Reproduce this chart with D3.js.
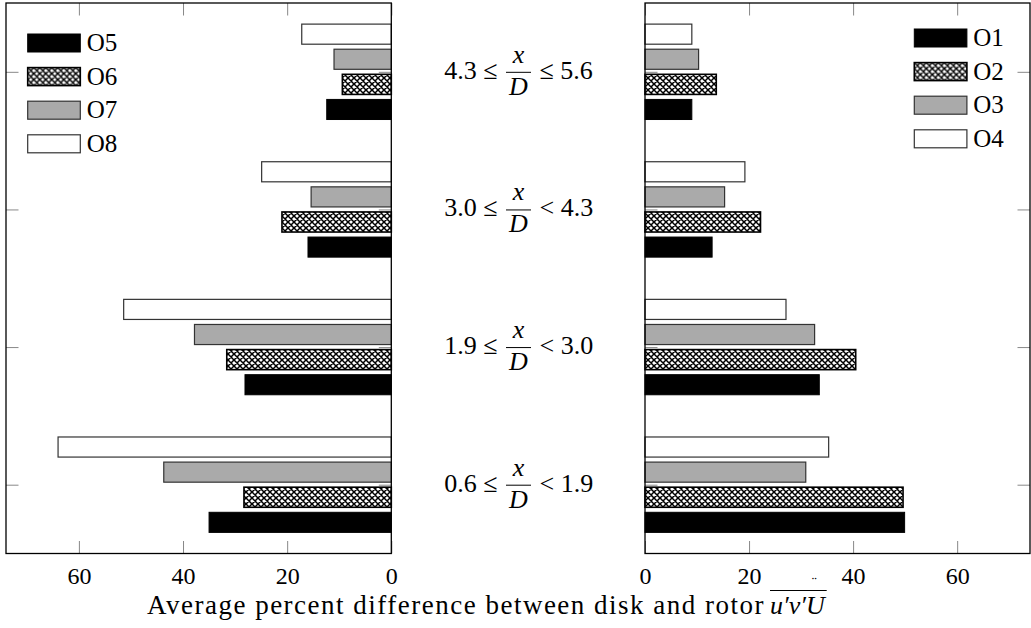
<!DOCTYPE html>
<html>
<head>
<meta charset="utf-8">
<script src="https://cdn.jsdelivr.net/npm/d3@7"></script>
<style>
body { margin: 0; background: #fff; }
svg text { font-family: "Liberation Serif", "DejaVu Serif", serif !important; fill: #000; }
</style>
</head>
<body>
<svg id="chart" width="1031" height="628" font-family="Liberation Serif, DejaVu Serif, serif"></svg>
<script>
// x/D ranges, from the bottom group to the top group
var rangeLow = ["0.6", "1.9", "3.0", "4.3"];
var rangeHigh = ["1.9", "3.0", "4.3", "5.6"];
var rangeRel = ["<", "<", "<", "\u2264"];

// left panel series (same group order)
var leftNames = ["O5", "O6", "O7", "O8"];
var O5 = [35.0, 28.1, 16.0, 12.4];
var O6 = [28.3, 31.6, 21.0, 9.4];
var O7 = [43.7, 37.8, 15.4, 11.0];
var O8 = [64.0, 51.4, 24.9, 17.2];

// right panel series
var rightNames = ["O1", "O2", "O3", "O4"];
var O1 = [49.9, 33.5, 12.9, 9.0];
var O2 = [49.6, 40.5, 22.2, 13.7];
var O3 = [30.9, 32.6, 15.3, 10.3];
var O4 = [35.3, 27.1, 19.2, 9.0];

var xTicks = [0, 20, 40, 60];
var xMax = 74;
var axisTitle = "Average percent difference between disk and rotor";


var svg = d3.select("#chart");

/*
 *** crosshatch pattern for the second series of each panel
 */
var pat = svg.append("defs").append("pattern")
    .attr("id", "crosshatch")
    .attr("patternUnits", "userSpaceOnUse")
    .attr("width", 6)
    .attr("height", 6);
pat.append("rect").attr("width", 6).attr("height", 6).attr("fill", "#fff");
pat.append("path")
    .attr("d", "M0,0L6,6M0,6L6,0M-1,5L1,7M5,-1L7,1M-1,1L1,-1M5,7L7,5")
    .attr("stroke", "#000")
    .attr("stroke-width", 1.5);

var fills = ["#000", "url(#crosshatch)", "#aaaaaa", "#fff"];
var strokes = ["#000", "#000", "#333", "#333"];
var strokeW = [1, 1.6, 1.2, 1.2];

var plotTop = 3, plotBottom = 553.5;
var y = d3.scaleLinear().domain([-0.5, 3.5]).range([plotBottom, plotTop]);
var band = d3.scaleBand().domain([3, 2, 1, 0]).range([-47.7, 47.7]).paddingInner(0.2);

var panels = [
    {names: leftNames, values: [O5, O6, O7, O8],
     x: d3.scaleLinear().domain([0, xMax]).range([391.3, 6]),
     legendX: 27.7, legendY: 34},
    {names: rightNames, values: [O1, O2, O3, O4],
     x: d3.scaleLinear().domain([0, xMax]).range([645, 1030]),
     legendX: 914.3, legendY: 29}
];

function styleAxis(g){
    g.attr("font-family", null);
    g.select(".domain").remove();
    g.selectAll(".tick line").attr("stroke", "#888").attr("stroke-width", 1);
    g.selectAll(".tick text").attr("font-size", 24);
}

function drawPanel(p){
    var g = svg.append("g");
    var r = p.x.range();
    var xa = Math.min(r[0], r[1]), xb = Math.max(r[0], r[1]);

    // ticks, drawn under the bars
    g.append("g").attr("transform", "translate(0," + plotBottom + ")")
        .call(d3.axisBottom(p.x).tickValues(xTicks).tickSize(-12.5).tickPadding(13.5))
        .call(styleAxis);
    g.append("g").attr("transform", "translate(0," + plotTop + ")")
        .call(d3.axisTop(p.x).tickValues(xTicks).tickSize(-12.5).tickFormat(""))
        .call(styleAxis);
    g.append("g").attr("transform", "translate(" + xa + ",0)")
        .call(d3.axisLeft(y).tickValues([0, 1, 2, 3]).tickSize(-12.5).tickFormat(""))
        .call(styleAxis);
    g.append("g").attr("transform", "translate(" + xb + ",0)")
        .call(d3.axisRight(y).tickValues([0, 1, 2, 3]).tickSize(-12.5).tickFormat(""))
        .call(styleAxis);

    // bars
    p.values.forEach(function(series, s){
        g.selectAll(".bar" + s)
            .data(series)
            .enter().append("rect")
            .attr("class", "bar" + s)
            .attr("x", function(d){ return Math.min(p.x(0), p.x(d)); })
            .attr("width", function(d){ return Math.abs(p.x(d) - p.x(0)); })
            .attr("y", function(d, i){ return y(i) + band(s); })
            .attr("height", band.bandwidth())
            .attr("fill", fills[s])
            .attr("stroke", strokes[s])
            .attr("stroke-width", strokeW[s]);
    });

    // frame
    g.append("rect")
        .attr("x", xa).attr("y", plotTop)
        .attr("width", xb - xa).attr("height", plotBottom - plotTop)
        .attr("fill", "none").attr("stroke", "#000").attr("stroke-width", 1.3);

    // legend
    var leg = g.selectAll(".legend")
        .data(p.names)
        .enter().append("g")
        .attr("class", "legend")
        .attr("transform", function(d, i){ return "translate(" + p.legendX + "," + (p.legendY + i * 33.6) + ")"; });
    leg.append("rect")
        .attr("width", 52.6).attr("height", 18)
        .attr("fill", function(d, i){ return fills[i]; })
        .attr("stroke", function(d, i){ return strokes[i]; })
        .attr("stroke-width", function(d, i){ return strokeW[i]; });
    leg.append("text")
        .attr("x", 59).attr("y", 17)
        .attr("font-size", 25)
        .text(function(d){ return d; });
}

panels.forEach(drawPanel);


/*
 *** range labels between the two panels
 */
var cx = 518.5;
var labels = svg.selectAll(".rangeLabel")
    .data(rangeLow)
    .enter().append("g")
    .attr("class", "rangeLabel")
    .attr("transform", function(d, i){ return "translate(" + cx + "," + y(i) + ")"; });
labels.append("text")
    .attr("x", -21).attr("y", 7)
    .attr("text-anchor", "end")
    .attr("font-size", 26)
    .text(function(d){ return d + " \u2264"; });
labels.append("text")
    .attr("x", 21).attr("y", 7)
    .attr("font-size", 26)
    .text(function(d, i){ return rangeRel[i] + " " + rangeHigh[i]; });
labels.append("text")
    .attr("x", 0).attr("y", -9)
    .attr("text-anchor", "middle")
    .attr("font-size", 26).attr("font-style", "italic")
    .text("x");
labels.append("text")
    .attr("x", 0).attr("y", 23)
    .attr("text-anchor", "middle")
    .attr("font-size", 26).attr("font-style", "italic")
    .text("D");
labels.append("line")
    .attr("x1", -12.5).attr("x2", 12.5)
    .attr("y1", 0.5).attr("y2", 0.5)
    .attr("stroke", "#000").attr("stroke-width", 1);


/*
 *** x axis title with the overlined quantity, spread to the reference width
 */
var titleX = 147, titleY = 614, titleSize = 27, titleWidth = 618;
var title = svg.append("text")
    .attr("x", titleX).attr("y", titleY)
    .attr("font-size", titleSize)
    .text(axisTitle);
var w0 = title.node().getComputedTextLength();
title.attr("letter-spacing", Math.max(0, (titleWidth - w0) / axisTitle.length));

var tEnd = titleX + titleWidth + 5;
var sym = svg.append("text")
    .attr("x", tEnd).attr("y", titleY)
    .attr("font-size", 26).attr("font-style", "italic");
sym.append("tspan").text("u\u2032v\u2032U");
var sLen = sym.node().getComputedTextLength();
// small dots sit above the bar, over the U
sym.append("tspan")
    .attr("dx", -13).attr("dy", -27)
    .attr("font-style", "normal")
    .attr("font-size", 15)
    .text("\u00A8");
svg.append("line")
    .attr("x1", tEnd).attr("x2", tEnd + sLen + 2)
    .attr("y1", 590.5).attr("y2", 590.5)
    .attr("stroke", "#000").attr("stroke-width", 1);
</script>
</body>
</html>
